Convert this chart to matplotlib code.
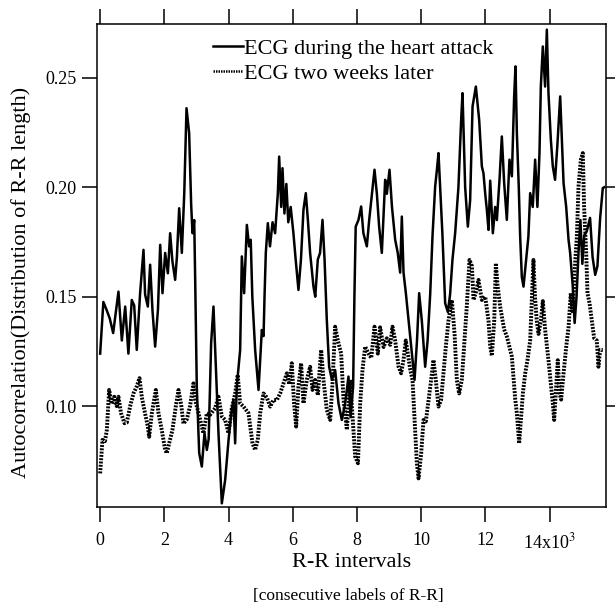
import matplotlib
matplotlib.use("Agg")
from matplotlib import pyplot as plt
from matplotlib.ticker import FixedLocator, FixedFormatter

plt.rcParams['font.family'] = ['Liberation Serif', 'DejaVu Serif']
plt.rcParams['mathtext.fontset'] = 'stix'

# ECG during the heart attack
heart_x = [0, 100, 200, 300, 405, 570, 675, 780, 880, 985, 1060, 1140, 1245, 1350, 1400,
           1485, 1557, 1630, 1713, 1800, 1870, 1942, 2025, 2110, 2180, 2250, 2336, 2390,
           2461, 2544, 2620, 2690, 2772, 2835, 2876, 2930, 2960, 3010, 3085, 3167, 3250,
           3323, 3380, 3457, 3530, 3603, 3686, 3790, 3894, 4000, 4085, 4153, 4205, 4255,
           4361, 4413, 4485, 4570, 4640, 4690, 4740, 4828, 4933, 5036, 5090, 5120, 5160,
           5223, 5290, 5370, 5450, 5535, 5576, 5640, 5680, 5740, 5800, 5860, 5935, 6020,
           6090, 6177, 6255, 6333, 6406, 6470, 6540, 6645, 6700, 6780, 6850, 6926, 6990,
           7060, 7133, 7220, 7320, 7424, 7528, 7630, 7735, 7800, 7880, 7920, 7960, 8047,
           8130, 8200, 8307, 8380, 8465, 8546, 8620, 8690, 8774, 8878, 8930, 9013, 9090,
           9190, 9270, 9345, 9397, 9450, 9520, 9605, 9710, 9793, 9870, 9937, 10020, 10124,
           10200, 10280, 10352, 10435, 10490, 10539, 10590, 10660, 10747, 10830, 10900,
           10975, 11058, 11160, 11245, 11287, 11370, 11453, 11525, 11600, 11703, 11806,
           11890, 11940, 11995, 12045, 12097, 12150, 12232, 12305, 12357, 12440, 12512,
           12585, 12668, 12750, 12825, 12896, 12938, 12980, 13040, 13083, 13135, 13187,
           13270, 13340, 13395, 13475, 13550, 13620, 13685, 13727, 13789, 13860, 13914,
           13965, 14039, 14100, 14170, 14240, 14330, 14380, 14435, 14517, 14590, 14640,
           14720, 14780, 14840, 14900, 14960, 15020, 15080, 15160, 15260, 15340, 15420,
           15490, 15575, 15657, 15700]
heart_y = [0.124, 0.1476, 0.144, 0.140, 0.1334, 0.1523, 0.130, 0.1455, 0.124, 0.1485, 0.146,
           0.1257, 0.1517, 0.1714, 0.151, 0.1455, 0.1646, 0.1437, 0.1272, 0.144, 0.1737,
           0.1516, 0.170, 0.1607, 0.179, 0.1663, 0.1577, 0.168, 0.1904, 0.170, 0.1973,
           0.2361, 0.2247, 0.192, 0.179, 0.185, 0.158, 0.109, 0.0786, 0.0724, 0.0877, 0.080,
           0.085, 0.1288, 0.1455, 0.118, 0.0876, 0.0556, 0.0663, 0.0846, 0.0968, 0.1028,
           0.083, 0.1089, 0.1257, 0.1684, 0.1516, 0.1828, 0.173, 0.176, 0.150, 0.1257,
           0.1074, 0.1348, 0.132, 0.150, 0.170, 0.1836, 0.173, 0.184, 0.179, 0.1973, 0.214,
           0.191, 0.2087, 0.188, 0.2015, 0.184, 0.191, 0.179, 0.167, 0.1531, 0.167, 0.1897,
           0.1973, 0.1852, 0.170, 0.1546, 0.150, 0.167, 0.170, 0.1851, 0.167, 0.1394, 0.118,
           0.112, 0.1165, 0.1013, 0.0937, 0.101, 0.1135, 0.095, 0.109, 0.150, 0.182, 0.1851,
           0.1912, 0.179, 0.173, 0.185, 0.197, 0.208, 0.197, 0.182, 0.170, 0.2034, 0.197,
           0.208, 0.191, 0.176, 0.170, 0.161, 0.1866, 0.161, 0.152, 0.1394, 0.1242, 0.112,
           0.130, 0.1516, 0.139, 0.118, 0.130, 0.151, 0.1775, 0.2003, 0.208, 0.2156, 0.200,
           0.179, 0.147, 0.143, 0.151, 0.167, 0.179, 0.200, 0.2308, 0.243, 0.200, 0.182,
           0.194, 0.2369, 0.246, 0.2308, 0.2095, 0.2064, 0.197, 0.1897, 0.1805, 0.203,
           0.179, 0.191, 0.185, 0.2034, 0.2232, 0.2019, 0.1851, 0.2126, 0.205, 0.2415,
           0.2552, 0.225, 0.200, 0.1775, 0.159, 0.1546, 0.167, 0.1775, 0.1973, 0.191,
           0.2126, 0.191, 0.2156, 0.246, 0.2643, 0.246, 0.272, 0.243, 0.2217, 0.2095,
           0.2034, 0.2187, 0.2415, 0.2232, 0.2019, 0.191, 0.176, 0.170, 0.155, 0.138,
           0.150, 0.170, 0.185, 0.165, 0.178, 0.180, 0.186, 0.168, 0.160, 0.164, 0.186,
           0.1996, 0.200]

# ECG two weeks later
later_x = [0, 72, 150, 208, 280, 360, 440, 515, 570, 650, 758, 830, 935, 1038, 1140, 1225,
           1300, 1380, 1485, 1526, 1610, 1693, 1734, 1817, 1920, 2025, 2077, 2150, 2250,
           2357, 2440, 2520, 2595, 2700, 2800, 2907, 2960, 3065, 3218, 3323, 3420, 3580,
           3686, 3790, 3894, 4000, 4100, 4205, 4285, 4360, 4465, 4620, 4745, 4828, 4910,
           4985, 5088, 5190, 5296, 5400, 5503, 5607, 5711, 5815, 5890, 5970, 6040, 6105,
           6177, 6260, 6333, 6437, 6540, 6614, 6697, 6780, 6884, 6956, 7060, 7165, 7237,
           7320, 7403, 7507, 7580, 7684, 7788, 7840, 7943, 8030, 8100, 8172, 8255, 8360,
           8445, 8546, 8650, 8720, 8830, 8930, 9035, 9106, 9190, 9295, 9376, 9450, 9520,
           9585, 9660, 9730, 9793, 9865, 9918, 10000, 10072, 10145, 10230, 10310, 10383,
           10455, 10539, 10620, 10695, 10768, 10850, 10955, 11040, 11110, 11183, 11266,
           11350, 11420, 11505, 11580, 11630, 11703, 11785, 11890, 11995, 12097, 12150,
           12200, 12275, 12326, 12380, 12460, 12585, 12668, 12750, 12825, 12930, 12980,
           13052, 13105, 13167, 13240, 13311, 13395, 13450, 13497, 13545, 13600, 13655,
           13727, 13789, 13860, 13965, 14039, 14100, 14142, 14205, 14255, 14310, 14360,
           14435, 14517, 14590, 14660, 14725, 14800, 14850, 14900, 14973, 15035, 15075,
           15140, 15180, 15245, 15315, 15390, 15470, 15522, 15575, 15657]
later_y = [0.0693, 0.0846, 0.084, 0.0891, 0.1074, 0.101, 0.1043, 0.100, 0.1043, 0.0968,
           0.0922, 0.0925, 0.100, 0.1058, 0.109, 0.1128, 0.104, 0.098, 0.0907, 0.086,
           0.0968, 0.104, 0.1074, 0.0968, 0.089, 0.080, 0.0785, 0.0831, 0.089, 0.100,
           0.1074, 0.101, 0.092, 0.094, 0.100, 0.1104, 0.1028, 0.0968, 0.0876, 0.0968,
           0.096, 0.099, 0.1043, 0.0953, 0.0937, 0.0876, 0.099, 0.1058, 0.1143, 0.1013,
           0.0998, 0.0968, 0.083, 0.080, 0.0846, 0.0968, 0.1058, 0.104, 0.0998, 0.1028,
           0.1028, 0.1058, 0.1104, 0.115, 0.110, 0.1196, 0.1013, 0.0907, 0.109, 0.1196,
           0.1013, 0.112, 0.118, 0.1074, 0.112, 0.105, 0.1257, 0.112, 0.0983, 0.0937,
           0.1104, 0.1363, 0.130, 0.124, 0.103, 0.0892, 0.112, 0.100, 0.0770, 0.0739,
           0.1013, 0.1166, 0.1272, 0.124, 0.122, 0.1363, 0.124, 0.136, 0.127, 0.131, 0.128,
           0.1363, 0.130, 0.118, 0.115, 0.1212, 0.130, 0.124, 0.1166, 0.112, 0.094, 0.0739,
           0.067, 0.0785, 0.0937, 0.093, 0.1028, 0.112, 0.1211, 0.112, 0.0998, 0.1028,
           0.115, 0.1272, 0.139, 0.1485, 0.133, 0.112, 0.1058, 0.112, 0.130, 0.1455,
           0.1668, 0.164, 0.1485, 0.152, 0.1577, 0.1485, 0.150, 0.139, 0.1272, 0.123,
           0.139, 0.1653, 0.155, 0.1455, 0.135, 0.1318, 0.127, 0.1226, 0.103, 0.0968,
           0.083, 0.0937, 0.1058, 0.115, 0.121, 0.130, 0.150, 0.1668, 0.150, 0.139, 0.133,
           0.139, 0.148, 0.135, 0.121, 0.110, 0.1013, 0.0937, 0.109, 0.121, 0.106, 0.103,
           0.115, 0.127, 0.136, 0.1516, 0.1425, 0.1668, 0.1775, 0.2003, 0.2125, 0.2156,
           0.191, 0.170, 0.1516, 0.147, 0.139, 0.131, 0.130, 0.118, 0.1257, 0.1257]

tick_pos = [0, 2000, 4000, 6000, 8000, 10000, 12000, 14000]
tick_lab = ['0', '2', '4', '6', '8', '10', '12', '14x10$^{3}$']
ytick_pos = [0.10, 0.15, 0.20, 0.25]

fig = plt.figure(figsize=(6.15, 6.08), dpi=100)
ax = fig.add_axes([0.158, 0.166, 0.827, 0.795])

ax.plot(heart_x, heart_y, color='black', lw=1.8, label='ECG during the heart attack')
ax.plot(later_x, later_y, color='black', lw=2.8, linestyle=(0, (0.5, 0.35)),
        label='ECG two weeks later')

ax.set_xlim(-93, 15750)
ax.set_ylim(0.0539, 0.2747)

ax.xaxis.set_major_locator(FixedLocator(tick_pos))
ax.xaxis.set_major_formatter(FixedFormatter(tick_lab))
ax.set_yticks(ytick_pos)
ax.set_yticklabels(['%.2f' % v for v in ytick_pos])
ax.tick_params(direction='out', length=11, width=1.1, labelsize=13,
               top=True, right=True, labeltop=False, labelright=False)
ax.tick_params(axis='x', pad=7)
ax.tick_params(axis='y', pad=4)
for s in ax.spines.values():
    s.set_linewidth(1.1)

ax.set_xlabel('R-R intervals', fontsize=16)
ax.xaxis.set_label_coords(0.5, -0.095)
ax.set_ylabel('Autocorrelation(Distribution of R-R length)', fontsize=16)
ax.yaxis.set_label_coords(-0.131, 0.464)
fig.text(0.567, 1 - 596 / 608, '[consecutive labels of R-R]', fontsize=12.5,
         ha='center', va='center')

leg = ax.legend(loc='upper left', bbox_to_anchor=(0.228, 0.970), frameon=False,
                fontsize=16, handlelength=1.35, handletextpad=0.05, labelspacing=0.2,
                borderaxespad=0, borderpad=0)
leg.get_lines()[1].set_linewidth(1.8)
leg.get_lines()[1].set_linestyle((0, (0.6, 0.4)))

fig.savefig('out.png', dpi=100)
